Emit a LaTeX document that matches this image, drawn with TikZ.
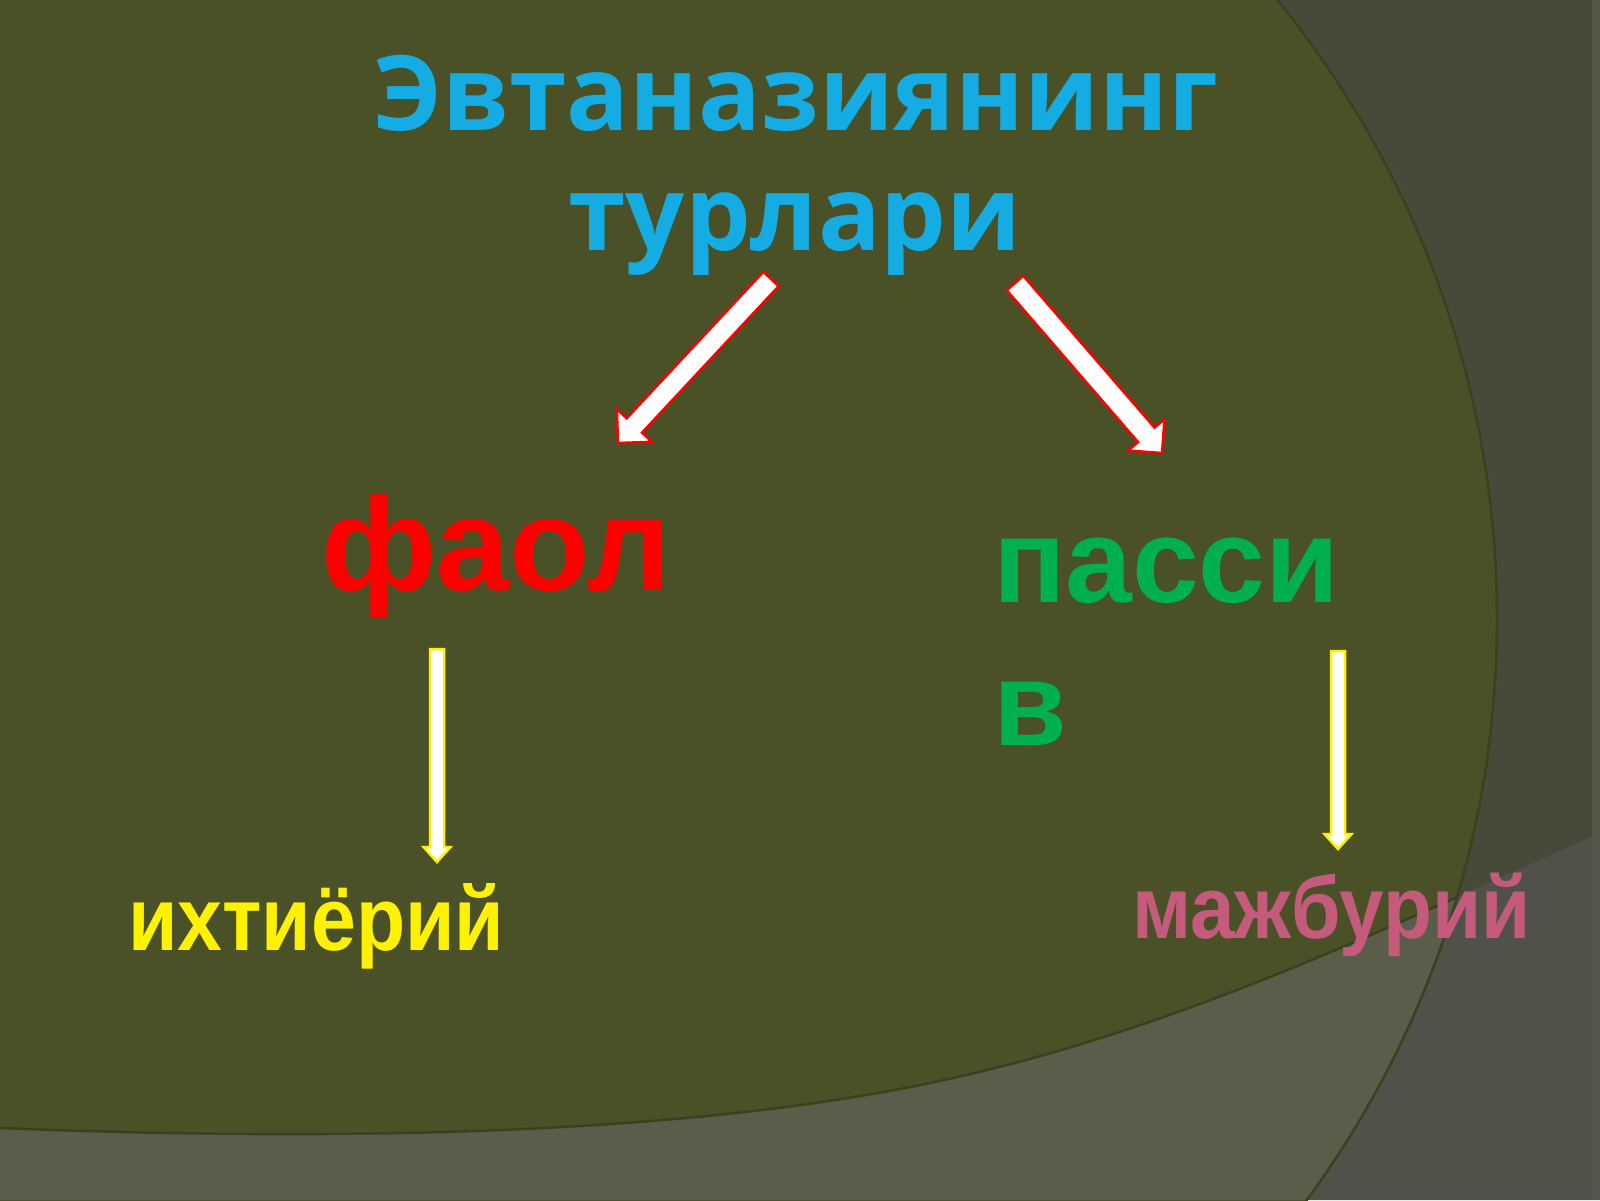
\documentclass[tikz,border=0pt]{standalone}
\usepackage{fontspec}
\setmainfont{Liberation Sans}
\newfontfamily\ttlfont{Open Sans}
\usetikzlibrary{calc}
\definecolor{bgtop}{HTML}{484A39}
\definecolor{olivebg}{HTML}{4A5127}
\definecolor{bandin}{HTML}{5A5D4A}
\definecolor{bandout}{HTML}{505148}
\definecolor{edgecol}{HTML}{3A4020}
\definecolor{stripcol}{HTML}{545747}
\definecolor{ttlblue}{HTML}{14ACE2}
\definecolor{pasgreen}{HTML}{00B050}
\definecolor{majpink}{HTML}{C45A7C}
\tikzset{
  redarrow/.style={draw=red, fill=white, line width=2.5pt, line join=miter},
  yelarrow/.style={draw=yellow, fill=white, line width=2.5pt, line join=miter},
  word/.style={inner sep=0pt, outer sep=0pt},
  edgeline/.style={draw=edgecol, line width=2.5pt}
}
% #1 style, #2 tail, #3 tip, #4 half shaft, #5 half head, #6 head length
\newcommand\blkarrow[6]{%
  \coordinate (nk) at ($(#3)!#6!(#2)$);
  \draw[#1] ($(#2)!#4!90:(#3)$) -- ($(nk)!#4!-90:(#2)$) -- ($(nk)!#5!-90:(#2)$)
    -- (#3) -- ($(nk)!#5!90:(#2)$) -- ($(nk)!#4!90:(#2)$)
    -- ($(#2)!#4!-90:(#3)$) -- cycle;}
\begin{document}
\begin{tikzpicture}[x=1pt,y=-1pt]
\useasboundingbox (0,0) rectangle (1600,1200);
% background
\fill[bgtop] (0,0) rectangle (1600,1200);
\fill[olivebg] (515,619) circle[radius=982];
\def\bandcurve{(0,1128) .. controls (300,1140) and (650,1138) .. (910,1087) .. controls (1150,1040) and (1350,945) .. (1600,833)}
\fill[bandout] \bandcurve -- (1600,1200) -- (0,1200) -- cycle;
\begin{scope}
  \clip (515,619) circle[radius=982];
  \fill[bandin] \bandcurve -- (1600,1200) -- (0,1200) -- cycle;
  \draw[edgeline] \bandcurve;
\end{scope}
\draw[edgeline] (515,619) circle[radius=982];
\fill[stripcol] (1592,0) rectangle (1600,1200);
% texts
\node[word, anchor=base, text=ttlblue, font=\ttlfont\bfseries\fontsize{104}{120}\selectfont] (t1) at (796,130) {Эвтаназиянинг};
\node[word, anchor=base, text=ttlblue, font=\ttlfont\bfseries\fontsize{104}{120}\selectfont] (t2) at (795,250) {турлари};
\node[word, anchor=base west, text=red, font=\bfseries\fontsize{132}{150}\selectfont] (faol) at (321,590) {фаол};
\node[word, anchor=base west, text=pasgreen, font=\bfseries\fontsize{120}{140}\selectfont] (pas1) at (993,602) {пасси};
\node[word, anchor=base west, text=pasgreen, font=\bfseries\fontsize{120}{140}\selectfont] (pas2) at (993,745) {в};
\node[word, anchor=base west, text=yellow, font=\bfseries\fontsize{90}{100}\selectfont] (ixt) at (128,950) {\scalebox{0.895}[1]{ихтиёрий}};
\node[word, anchor=base west, text=majpink, font=\bfseries\fontsize{88}{100}\selectfont] (maj) at (1132,938) {\scalebox{0.91}[1]{мажбурий}};
% arrow end points
\coordinate (ra1) at (771,279);
\coordinate (ra2) at (618,443);
\coordinate (rb1) at (1015,283);
\coordinate (rb2) at (1162,453);
\coordinate (ya1) at (437,649);
\coordinate (ya2) at (437,862);
\coordinate (yb1) at (1338,651);
\coordinate (yb2) at (1338,849);
\blkarrow{redarrow}{ra1}{ra2}{10.5pt}{24pt}{24pt}
\blkarrow{redarrow}{rb1}{rb2}{11pt}{24pt}{24pt}
\blkarrow{yelarrow}{ya1}{ya2}{7pt}{13.5pt}{15pt}
\blkarrow{yelarrow}{yb1}{yb2}{7pt}{13.5pt}{15pt}
\end{tikzpicture}
\end{document}
